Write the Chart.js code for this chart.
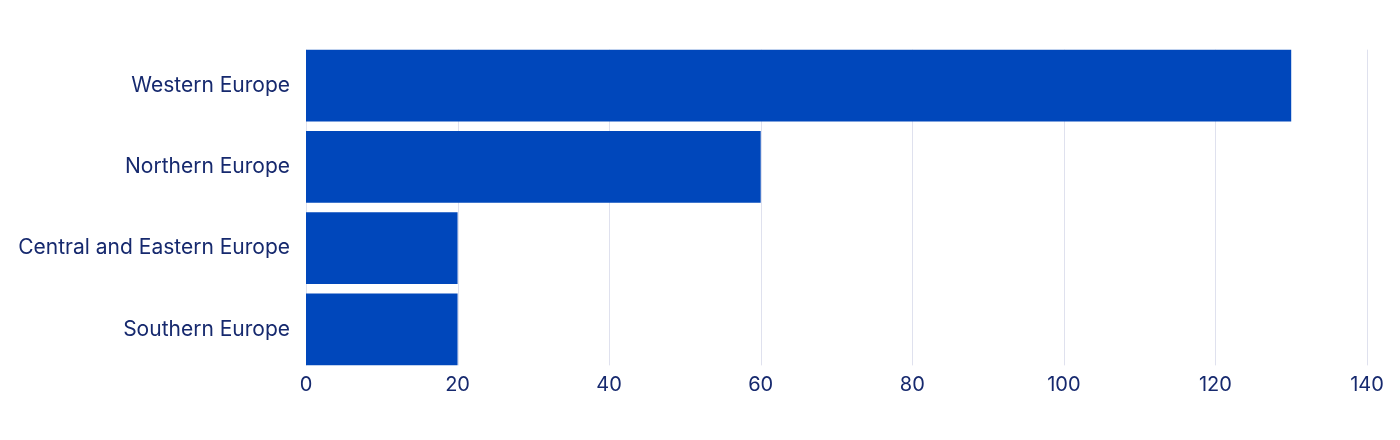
<!DOCTYPE html>
<html>
<head>
<meta charset="utf-8">
<script src="https://cdn.jsdelivr.net/npm/chart.js@4"></script>
<style>
  html, body { margin: 0; padding: 0; background: #fff; }
  #wrap { width: 1400px; height: 440px; }
</style>
</head>
<body>
<div id="wrap"><canvas id="regionChart"></canvas></div>
<script>
const regions = ['Western Europe', 'Northern Europe', 'Central and Eastern Europe', 'Southern Europe'];
const values = [130, 60, 20, 20];
const xTicks = [0, 20, 40, 60, 80, 100, 120, 140];

const textColor = '#16296e';
const gridColor = '#dfe1ee';
const barColor = '#0047bb';

// grid lines only span from top of first bar to bottom of last bar
const gridPlugin = {
  id: 'barGrid',
  beforeDatasetsDraw(chart) {
    const meta = chart.getDatasetMeta(0);
    const first = meta.data[0], last = meta.data[meta.data.length - 1];
    const top = first.y - first.height / 2;
    const bottom = last.y + last.height / 2;
    const x = chart.scales.x;
    const c = chart.ctx;
    c.save();
    c.strokeStyle = gridColor;
    c.lineWidth = 1;
    xTicks.forEach(v => {
      const px = Math.round(x.getPixelForValue(v)) + 0.5;
      c.beginPath();
      c.moveTo(px, top);
      c.lineTo(px, bottom);
      c.stroke();
    });
    c.restore();
  }
};

const ctx = document.getElementById('regionChart').getContext('2d');
new Chart(ctx, {
  type: 'bar',
  data: {
    labels: regions,
    datasets: [{
      data: values,
      backgroundColor: barColor,
      borderWidth: 0,
      barPercentage: 0.886,
      categoryPercentage: 1
    }]
  },
  plugins: [gridPlugin],
  options: {
    indexAxis: 'y',
    responsive: true,
    maintainAspectRatio: false,
    animation: false,
    layout: { padding: { top: 45, bottom: 30, left: 0, right: 33 } },
    plugins: {
      legend: { display: false },
      tooltip: { enabled: false }
    },
    scales: {
      x: {
        min: 0,
        max: 140,
        afterBuildTicks: s => { s.ticks = xTicks.map(v => ({ value: v })); },
        grid: { display: false },
        border: { display: false },
        ticks: {
          color: textColor,
          font: { family: 'Inter', size: 20 },
          padding: -5
        },
        afterFit: s => { s.height = 40; }
      },
      y: {
        grid: { display: false },
        border: { display: false },
        ticks: {
          color: textColor,
          font: { family: 'Inter', size: 21 },
          padding: 8
        },
        afterFit: s => { s.width = 306; }
      }
    }
  }
});
</script>
</body>
</html>
